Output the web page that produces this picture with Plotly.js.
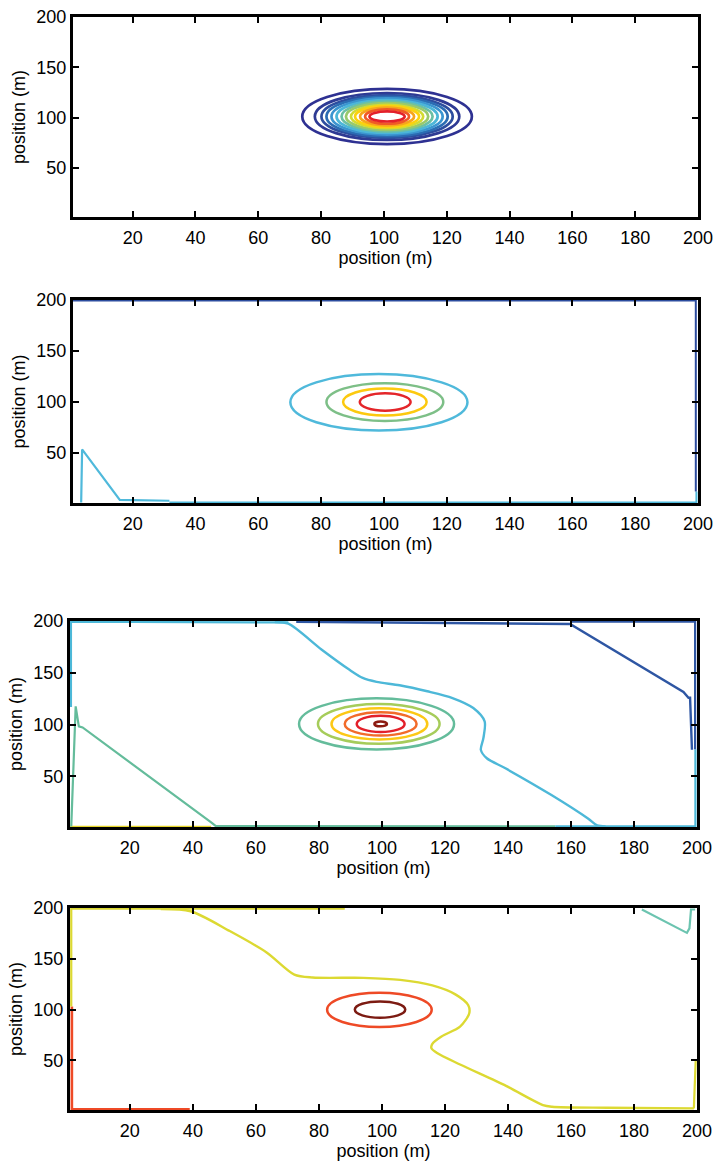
<!DOCTYPE html>
<html>
<head>
<meta charset="utf-8">
<script src="https://cdn.plot.ly/plotly-3.0.1.min.js"></script>
<style>html,body{margin:0;padding:0;background:#fff;}#chart{width:718px;height:1170px;}</style>
</head>
<body>
<div id="chart"></div>
<script>
// ---------- DATA ----------
const xTickVals = [20, 40, 60, 80, 100, 120, 140, 160, 180, 200];
const yTickVals = [50, 100, 150, 200];
const axisTitle = "position (m)";

// Panel 1: closed contour rings (center x, center y, radius x, radius y)
const p1Cx = [101, 101, 101, 101, 101, 101, 101, 101, 101, 101, 101, 101, 101];
const p1Cy = [101, 101, 101, 101, 101, 101, 101, 101, 101, 101, 101, 101, 101];
const p1Rx = [27.0, 23.0, 20.9, 19.3, 17.7, 16.1, 14.5, 13.1, 11.5, 10.2, 8.6, 7.0, 5.6];
const p1Ry = [27.5, 23.4, 21.2, 19.6, 18.0, 16.4, 14.8, 13.3, 11.7, 10.4, 8.8, 7.2, 5.0];

// Panel 2 rings
const p2Cx = [98.4, 100.3, 100.3, 100.4];
const p2Cy = [99.7, 100.0, 100.0, 100.0];
const p2Rx = [28.2, 18.6, 13.3, 8.1];
const p2Ry = [27.7, 18.5, 13.2, 8.5];
// Panel 2 open contour lines
const p2CyanX = [3.6, 3.9, 15.9, 31.7];
const p2CyanY = [1.5, 53.5, 4.0, 3.2];
const p2CyanEdgeX = [31.7, 199.5, 199.5];
const p2CyanEdgeY = [1.4, 1.4, 12.3];
const p2BlueX = [1, 199.3, 199.3];
const p2BlueY = [199.4, 199.4, 12.3];

// Panel 3 rings
const p3Cx = [98.3, 99.0, 99.2, 99.6, 99.6, 99.6];
const p3Cy = [100.6, 100.6, 100.6, 100.6, 100.6, 100.6];
const p3Rx = [24.6, 19.3, 15.2, 11.4, 7.6, 2.0];
const p3Ry = [24.7, 19.2, 15.0, 11.3, 7.9, 2.3];
// Panel 3 open contour lines
const p3CyanEdgeX = [1.3, 1.3, 70.3];
const p3CyanEdgeY = [117, 199.3, 198.6];
const p3CyanX = [66.0, 70.3, 80.8, 89.6, 93.9, 98.3, 105.6, 114.4, 122.4, 129.0, 132.6, 132.2, 131.4, 133.3, 139.2, 153.8, 165.4, 168.3, 171.0];
const p3CyanY = [199.0, 197.4, 172.5, 153.1, 145.0, 141.2, 137.9, 132.1, 125.6, 115.9, 103.0, 86.8, 75.5, 67.4, 57.7, 31.9, 9.2, 2.5, 1.6];
const p3CyanEdge2X = [155, 199.5, 199.5];
const p3CyanEdge2Y = [1.6, 1.6, 76];
const p3GreenX = [1.4, 2.8, 3.8, 5.0, 45.8, 47.3, 155];
const p3GreenY = [1.5, 117.6, 98.2, 97.2, 5.4, 1.8, 1.6];
const p3YellowX = [1, 45.8];
const p3YellowY = [1.3, 1.3];
const p3BlueX = [72.8, 159.7, 195.7, 197.3, 197.8, 198.4];
const p3BlueY = [199.3, 197.1, 131.4, 125.9, 125.9, 75.7];
const p3BlueEdgeX = [159.7, 199.4, 199.4];
const p3BlueEdgeY = [199.3, 199.3, 76];

// Panel 4 rings
const p4Cx = [99.2, 99.4];
const p4Cy = [99.7, 99.9];
const p4Rx = [16.6, 8.0];
const p4Ry = [16.9, 8.1];
// Panel 4 open contour lines
const p4YellowEdgeX = [1.4, 1.4, 88.2];
const p4YellowEdgeY = [103, 199.3, 199.3];
const p4YellowX = [29.8, 39.3, 51.7, 63.4, 72.2, 78.0, 94.1, 105.8, 116.0, 123.3, 127.4, 127.7, 124.8, 118.9, 116.0, 115.7, 117.5, 124.8, 139.4, 151.1, 154.0, 171.5, 199.0];
const p4YellowY = [199.0, 196.8, 177.3, 156.2, 134.4, 131.5, 131.2, 129.2, 123.7, 114.9, 104.2, 96.1, 83.1, 73.4, 66.2, 62.0, 57.1, 45.8, 24.7, 5.8, 4.2, 3.2, 2.6];
const p4YellowEdge2X = [199.0, 199.6];
const p4YellowEdge2Y = [2.6, 50.6];
const p4RedX = [1.6, 1.6, 39.0];
const p4RedY = [103, 1.6, 1.6];
const p4TealX = [182.5, 196.8, 197.6, 198.1, 199.4];
const p4TealY = [198.5, 175.5, 180.0, 198.5, 198.5];

// ---------- STYLES ----------
const p1Colors = ["#2e3192", "#2e3a94", "#2d4d9f", "#2b6cb3", "#3b95d0", "#4cb6d8", "#6cc0a4", "#99c96c", "#d2db32", "#fbd10f", "#f7a51c", "#f05a26", "#e3202a"];
const p2Colors = ["#4fb9db", "#7dbf87", "#fcc90f", "#e4262a"];
const p3Colors = ["#64bc9b", "#a6cc5a", "#fcc815", "#f26b2a", "#e3202a", "#8b1a10"];
const p4Colors = ["#ee4a26", "#7c1b12"];

const font = "Liberation Sans, Arial, sans-serif";
const panels = [
  {x: [73/718, 698/718], y: [1-217/1170, 1-17/1170]},
  {x: [73/718, 698/718], y: [1-503/1170, 1-300/1170]},
  {x: [70/718, 697/718], y: [1-827/1170, 1-621/1170]},
  {x: [70/718, 697/718], y: [1-1110/1170, 1-908/1170]}
];

const layout = {
  width: 718, height: 1170,
  margin: {l: 0, r: 0, t: 0, b: 0},
  paper_bgcolor: "#fff", plot_bgcolor: "#fff",
  showlegend: false,
  font: {family: font, color: "#000", size: 18},
  shapes: []
};

panels.forEach((p, i) => {
  const s = i === 0 ? "" : String(i + 1);
  layout["xaxis" + s] = {
    domain: p.x, anchor: "y" + s, range: [1, 200],
    tickvals: xTickVals, ticks: "inside", ticklen: 6, tickwidth: 2, tickcolor: "#000",
    showline: true, linewidth: 3, linecolor: "#000", mirror: "ticks",
    showgrid: false, zeroline: false, fixedrange: true, ticklabelstandoff: 2,
    tickfont: {family: font, size: 18, color: "#000"},
    title: {text: axisTitle, font: {family: font, size: 18, color: "#000"}, standoff: 3}
  };
  layout["yaxis" + s] = {
    domain: p.y, anchor: "x" + s, range: [1, 200],
    tickvals: yTickVals, ticks: "inside", ticklen: 6, tickwidth: 2, tickcolor: "#000",
    showline: true, linewidth: 3, linecolor: "#000", mirror: "ticks",
    showgrid: false, zeroline: false, fixedrange: true,
    tickfont: {family: font, size: 18, color: "#000"},
    title: {text: axisTitle, font: {family: font, size: 18, color: "#000"}, standoff: 7}
  };
});

function addRings(cx, cy, rx, ry, colors, idx, width) {
  const s = idx === 0 ? "" : String(idx + 1);
  for (let k = 0; k < rx.length; k++) {
    layout.shapes.push({
      type: "circle", xref: "x" + s, yref: "y" + s, layer: "below",
      x0: cx[k] - rx[k], x1: cx[k] + rx[k], y0: cy[k] - ry[k], y1: cy[k] + ry[k],
      line: {color: colors[k], width: width}, fillcolor: "rgba(0,0,0,0)"
    });
  }
}
addRings(p1Cx, p1Cy, p1Rx, p1Ry, p1Colors, 0, 2.7);
addRings(p2Cx, p2Cy, p2Rx, p2Ry, p2Colors, 1, 2.5);
addRings(p3Cx, p3Cy, p3Rx, p3Ry, p3Colors, 2, 2.5);
addRings(p4Cx, p4Cy, p4Rx, p4Ry, p4Colors, 3, 2.5);

function line(xs, ys, color, idx, width, smooth) {
  const s = idx === 0 ? "" : String(idx + 1);
  return {type: "scatter", mode: "lines", x: xs, y: ys, xaxis: "x" + s, yaxis: "y" + s,
    line: {color: color, width: width || 2, shape: smooth ? "spline" : "linear", smoothing: 0.8},
    hoverinfo: "skip", cliponaxis: true};
}

const data = [
  line([1], [1], "rgba(0,0,0,0)", 0),
  line(p2CyanEdgeX, p2CyanEdgeY, "#4fb9db", 1),
  line(p2BlueX, p2BlueY, "#2c4c9e", 1),
  line(p2CyanX, p2CyanY, "#4fb9db", 1, 2.2),
  line(p3YellowX, p3YellowY, "#e6d52a", 2),
  line(p3GreenX, p3GreenY, "#64bc9b", 2, 2.2),
  line(p3CyanEdgeX, p3CyanEdgeY, "#4db8d8", 2, 2.2),
  line(p3CyanEdge2X, p3CyanEdge2Y, "#4db8d8", 2, 2.2),
  line(p3CyanX, p3CyanY, "#4db8d8", 2, 2.4, true),
  line(p3BlueEdgeX, p3BlueEdgeY, "#2e56a3", 2, 2.2),
  line(p3BlueX, p3BlueY, "#2e56a3", 2, 2.4),
  line(p4RedX, p4RedY, "#ee4a26", 3, 2.6),
  line(p4YellowEdgeX, p4YellowEdgeY, "#dcd932", 3, 2.2),
  line(p4YellowEdge2X, p4YellowEdge2Y, "#dcd932", 3, 2.2),
  line(p4YellowX, p4YellowY, "#dcd932", 3, 2.4, true),
  line(p4TealX, p4TealY, "#6cc4b0", 3, 2.2)
];

Plotly.newPlot("chart", data, layout, {displayModeBar: false, staticPlot: true});
</script>
</body>
</html>
